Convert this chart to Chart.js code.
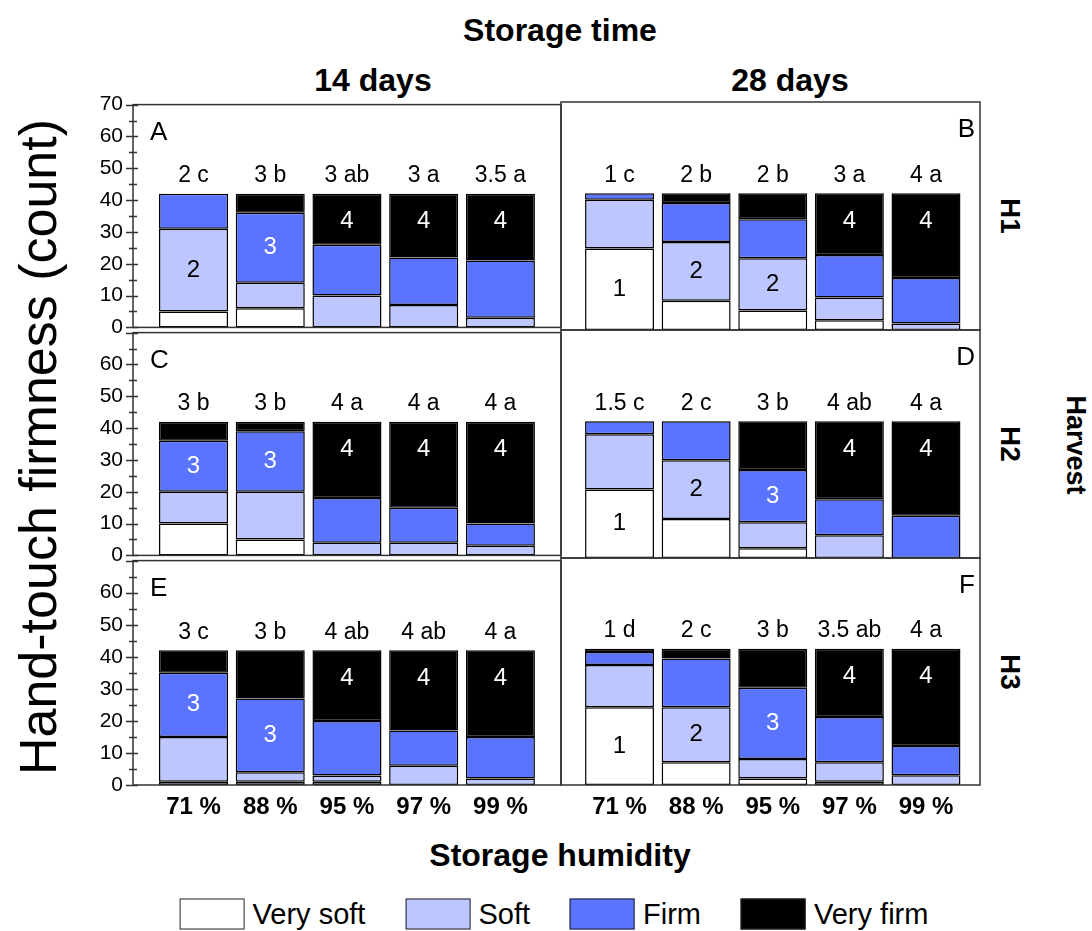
<!DOCTYPE html>
<html>
<head>
<meta charset="utf-8">
<script src="https://cdn.jsdelivr.net/npm/chart.js@4/dist/chart.umd.min.js"></script>
<style>
  html, body { margin: 0; padding: 0; background: #fff; }
  #wrap { position: relative; width: 1092px; height: 931px; overflow: hidden; background: #fff;
          font-family: 'Liberation Sans', Arial, sans-serif; color: #000; }
  #wrap canvas { position: absolute; }
  .lbl { position: absolute; white-space: nowrap; transform: translate(-50%, -50%); line-height: 1; }
  .bold { font-weight: bold; }
  .up { transform: translate(-50%, -50%) rotate(-90deg); }
  .down { transform: translate(-50%, -50%) rotate(90deg); }
  #legend { position: absolute; left: 554px; top: 914px; transform: translate(-50%, -50%);
            display: flex; align-items: center; gap: 40px; font-size: 29px; white-space: nowrap; }
  #legend .item { display: flex; align-items: center; gap: 8px; }
  #legend .box { width: 65px; height: 31px; border: 1.5px solid #222; box-sizing: border-box; }
</style>
</head>
<body>
<div id="wrap">
  <div class="lbl bold" style="left:560px;top:30px;font-size:32px">Storage time</div>
  <div class="lbl bold" style="left:373px;top:80px;font-size:32px">14 days</div>
  <div class="lbl bold" style="left:790px;top:80px;font-size:32px">28 days</div>
  <div class="lbl up" style="left:38px;top:447px;font-size:52px">Hand-touch firmness (count)</div>
  <div class="lbl bold down" style="left:1010px;top:216px;font-size:28px">H1</div>
  <div class="lbl bold down" style="left:1010px;top:444px;font-size:28px">H2</div>
  <div class="lbl bold down" style="left:1010px;top:672px;font-size:28px">H3</div>
  <div class="lbl bold down" style="left:1075px;top:445px;font-size:27px">Harvest</div>
  <div class="lbl bold" style="left:560px;top:855px;font-size:32px">Storage humidity</div>
  <div id="legend"></div>
</div>
<script>
const humidity = ['71 %', '88 %', '95 %', '97 %', '99 %'];
const classes = ['Very soft', 'Soft', 'Firm', 'Very firm'];
const classColors = ['#ffffff', '#bec6ff', '#5a74ff', '#000000'];
const panelLetters = ['A', 'B', 'C', 'D', 'E', 'F'];
const yTicks = [0, 10, 20, 30, 40, 50, 60, 70];

// counts per panel (A..F), one value per humidity level
const verySoft = [[5, 6, 0, 0, 0], [25, 9, 6, 3, 0], [10, 5, 0, 0, 0], [21, 12, 3, 0, 0], [1, 1, 1, 0, 0], [24, 7, 2, 1, 0]];
const soft     = [[26, 8, 10, 7, 3], [15, 18, 16, 7, 2], [10, 15, 4, 4, 3], [17, 18, 8, 7, 0], [14, 3, 2, 6, 2], [13, 17, 6, 6, 3]];
const firm     = [[11, 22, 16, 15, 18], [2, 12, 12, 13, 14], [16, 19, 14, 11, 7], [4, 12, 16, 11, 13], [20, 23, 17, 11, 13], [4, 15, 22, 14, 9]];
const veryFirm = [[0, 6, 16, 20, 21], [0, 3, 8, 19, 26], [6, 3, 24, 27, 32], [0, 0, 15, 24, 29], [7, 15, 22, 25, 27], [1, 3, 12, 21, 30]];

// median score + letter group above each bar, and modal class drawn in the bar
const medianLabels = [
  ['2 c', '3 b', '3 ab', '3 a', '3.5 a'],
  ['1 c', '2 b', '2 b', '3 a', '4 a'],
  ['3 b', '3 b', '4 a', '4 a', '4 a'],
  ['1.5 c', '2 c', '3 b', '4 ab', '4 a'],
  ['3 c', '3 b', '4 ab', '4 ab', '4 a'],
  ['1 d', '2 c', '3 b', '3.5 ab', '4 a']
];
const modeClass = [[2, 3, 4, 4, 4], [1, 2, 2, 4, 4], [3, 3, 4, 4, 4], [1, 2, 3, 4, 4], [3, 3, 4, 4, 4], [1, 2, 3, 4, 4]];

const series = [verySoft, soft, firm, veryFirm];

// panel geometry (pixels on the page)
const colX = [[133, 561], [561, 980]];
const rowY = [[102, 330], [330, 558], [558, 785]];
const xRange = [[0.211, 5.79], [0.236, 5.705]];

Chart.defaults.font.family = "'Liberation Sans', Arial, sans-serif";
Chart.defaults.color = '#000';

// legend
const legend = document.getElementById('legend');
classes.forEach((name, k) => {
  const item = document.createElement('div');
  item.className = 'item';
  item.innerHTML = `<div class="box" style="background:${classColors[k]}"></div><span>${name}</span>`;
  legend.appendChild(item);
});

const panelDecor = {
  id: 'panelDecor',
  afterDatasetsDraw(chart, args, opts) {
    const ctx = chart.ctx;
    const area = chart.chartArea;
    const y = chart.scales.y;
    ctx.save();

    // frame
    ctx.strokeStyle = '#333';
    ctx.lineWidth = 1.5;
    ctx.strokeRect(area.left, area.top, area.right - area.left, area.bottom - area.top);

    // crossing ticks on the left axis
    if (opts.left) {
      ctx.beginPath();
      for (let v = 0; v <= 70; v += 5) {
        const py = Math.round(y.getPixelForValue(v)) + 0.5;
        const major = v % 10 === 0;
        ctx.moveTo(area.left - (major ? 7 : 4), py);
        ctx.lineTo(area.left + (major ? 5 : 4), py);
      }
      ctx.lineWidth = 1.3;
      ctx.stroke();
    }

    // panel letter
    ctx.fillStyle = '#000';
    ctx.font = '26px ' + Chart.defaults.font.family;
    ctx.textBaseline = 'middle';
    if (opts.left) {
      ctx.textAlign = 'left';
      ctx.fillText(opts.letter, area.left + 17, area.top + 28);
    } else {
      ctx.textAlign = 'right';
      ctx.fillText(opts.letter, area.right - 5, area.top + 28);
    }

    // labels above bars
    ctx.textAlign = 'center';
    ctx.font = '23px ' + Chart.defaults.font.family;
    const topMeta = chart.getDatasetMeta(3);
    topMeta.data.forEach((el, j) => {
      ctx.fillText(opts.tops[j], el.x, el.y - 18);
    });

    // modal class inside bars
    ctx.font = '24px ' + Chart.defaults.font.family;
    opts.modes.forEach((m, j) => {
      const k = m - 1;
      const el = chart.getDatasetMeta(k).data[j];
      const py = k === 3 ? el.y + 28 : (el.y + el.base) / 2;
      ctx.fillStyle = k >= 2 ? '#fff' : '#000';
      ctx.fillText(String(m), el.x, py);
    });

    ctx.restore();
  }
};

function makePanel(i) {
  const row = Math.floor(i / 2), col = i % 2;
  const [x0, x1] = colX[col];
  const [y0, y1] = rowY[row];
  const left = col === 0;
  const bottom = row === 2;
  const pad = 20, xAxisH = 50;

  const cl = left ? 0 : x0 - pad;
  const ct = y0 - pad;
  const cw = x1 + pad - cl;
  const ch = (y1 - y0) + pad + (bottom ? xAxisH : pad);

  const canvas = document.createElement('canvas');
  canvas.width = cw;
  canvas.height = ch;
  canvas.style.left = cl + 'px';
  canvas.style.top = ct + 'px';
  canvas.style.width = cw + 'px';
  canvas.style.height = ch + 'px';
  document.getElementById('wrap').appendChild(canvas);

  const datasets = series.map((s, k) => ({
    label: classes[k],
    data: s[i].map((v, j) => ({ x: j + 1, y: v })),
    backgroundColor: classColors[k],
    borderColor: '#000',
    borderWidth: 1.5,
    borderSkipped: false,
    categoryPercentage: 1,
    barPercentage: 0.9
  }));

  new Chart(canvas.getContext('2d'), {
    type: 'bar',
    data: { datasets: datasets },
    options: {
      responsive: false,
      animation: false,
      devicePixelRatio: 1,
      layout: { padding: { left: left ? 0 : pad, right: pad, top: pad, bottom: bottom ? 0 : pad } },
      plugins: {
        legend: { display: false },
        tooltip: { enabled: false },
        panelDecor: { left: left, letter: panelLetters[i], tops: medianLabels[i], modes: modeClass[i] }
      },
      scales: {
        x: {
          type: 'linear',
          stacked: true,
          offset: false,
          min: xRange[col][0],
          max: xRange[col][1],
          display: bottom,
          grid: { display: false, drawTicks: false },
          border: { display: false },
          afterBuildTicks: axis => { axis.ticks = humidity.map((_, j) => ({ value: j + 1 })); },
          afterFit: scale => { if (bottom) scale.height = xAxisH; },
          ticks: {
            autoSkip: false,
            maxRotation: 0,
            padding: 8,
            font: { size: 24, weight: 'bold' },
            callback: v => humidity[v - 1]
          }
        },
        y: {
          stacked: true,
          min: 0,
          max: 70,
          display: left,
          grid: { display: false, drawTicks: false },
          border: { display: false },
          afterBuildTicks: axis => { axis.ticks = yTicks.map(v => ({ value: v })); },
          afterFit: scale => { if (left) scale.width = 133; },
          ticks: {
            autoSkip: false,
            padding: 10,
            font: { size: 21 },
            callback: v => (row > 0 && v === 70) ? '' : v
          }
        }
      }
    },
    plugins: [panelDecor]
  });
}

for (let i = 0; i < 6; i++) makePanel(i);
</script>
</body>
</html>
